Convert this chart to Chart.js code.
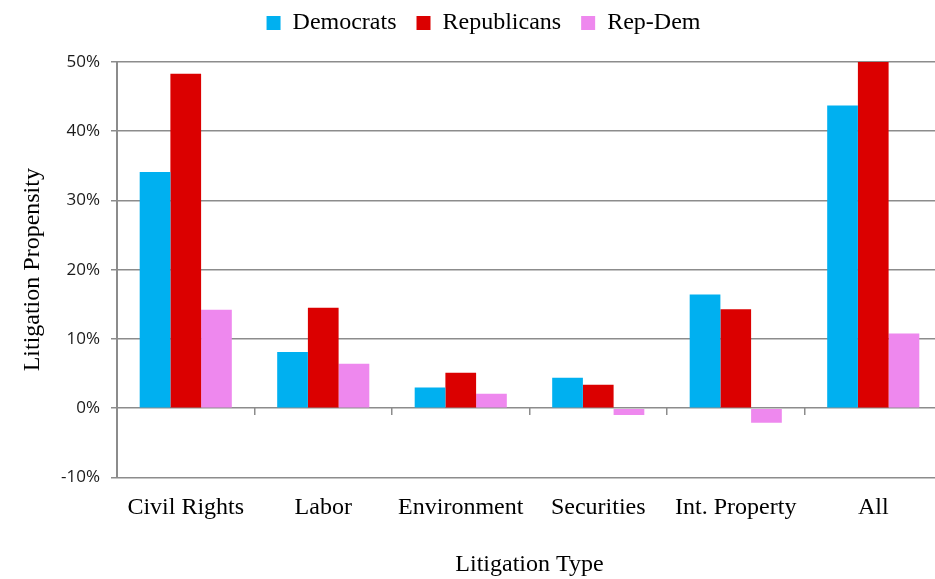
<!DOCTYPE html>
<html lang="en">
<head>
  <meta charset="UTF-8">
  <title>Litigation Propensity by Type</title>
  <script src="https://cdn.jsdelivr.net/npm/chart.js@4.4.0/dist/chart.umd.min.js"></script>
  <style>
    html, body { margin: 0; padding: 0; background: #fff; overflow: hidden; }
    #frame { width: 935px; height: 579px; overflow: hidden; }
    #chart-box { width: 950px; height: 579px; position: relative; }
  </style>
</head>
<body>
  <div id="frame">
    <div id="chart-box">
      <canvas id="litigation-canvas"></canvas>
    </div>
  </div>

  <script>
    // Values (percent)
    const categories = ['Civil Rights', 'Labor', 'Environment', 'Securities', 'Int. Property', 'All'];
    const democrats = [34.1, 8.1, 3.0, 4.4, 16.4, 43.7];
    const republicans = [48.3, 14.5, 5.1, 3.4, 14.3, 54.5]; // "All" runs past the 50% top and is clipped
    const repDem = [14.2, 6.4, 2.1, -1.0, -2.1, 10.8];
    const yTicks = { min: -10, max: 50, step: 10 };

    const serif = 'Liberation Serif';
    const gridGrey = '#8c8c8c';

    // Push the plot down below the legend (extra gap under the legend box)
    const legendGap = {
      id: 'legendGap',
      beforeInit(chart) {
        const originalFit = chart.legend.fit;
        chart.legend.fit = function fit() {
          originalFit.bind(chart.legend)();
          this.height += 17;
        };
      }
    };

    const ctx = document.getElementById('litigation-canvas').getContext('2d');
    new Chart(ctx, {
      type: 'bar',
      data: {
        labels: categories,
        datasets: [
          { label: 'Democrats', data: democrats, backgroundColor: '#00b0f0', borderWidth: 0 },
          { label: 'Republicans', data: republicans, backgroundColor: '#db0000', borderWidth: 0 },
          { label: 'Rep-Dem', data: repDem, backgroundColor: '#ee88ee', borderWidth: 0 }
        ]
      },
      options: {
        responsive: true,
        maintainAspectRatio: false,
        animation: false,
        categoryPercentage: 0.67,
        barPercentage: 1.0,
        layout: { padding: { left: 25, right: 8, top: -9, bottom: 0 } },
        plugins: {
          tooltip: { enabled: false },
          legend: {
            position: 'top',
            labels: {
              boxWidth: 14,
              boxHeight: 14,
              padding: 20,
              color: '#000',
              font: { family: serif, size: 24 }
            }
          }
        },
        scales: {
          x: {
            position: 'bottom',
            grid: { display: false, drawTicks: false },
            border: { display: false },
            ticks: { color: '#000', padding: 16, font: { family: serif, size: 24 } },
            title: {
              display: true,
              text: 'Litigation Type',
              color: '#000',
              font: { family: serif, size: 24 },
              padding: { top: 12, bottom: 0 }
            }
          },
          // small tick marks between categories on the 0% line
          xZero: {
            type: 'category',
            labels: categories,
            position: { y: 0 },
            offset: true,
            grid: { offset: true, drawOnChartArea: false, tickLength: 7, color: gridGrey, lineWidth: 1.5 },
            border: { display: false },
            ticks: { display: false }
          },
          y: {
            min: yTicks.min,
            max: yTicks.max,
            afterFit(scale) { scale.width = 92; },
            ticks: {
              stepSize: yTicks.step,
              padding: 11,
              color: '#1a1a1a',
              font: { family: 'Open Sans', size: 17 },
              callback: v => v + '%'
            },
            grid: { color: gridGrey, lineWidth: 1.5, tickLength: 6 },
            border: { color: gridGrey, width: 2 },
            title: {
              display: true,
              text: 'Litigation Propensity',
              color: '#000',
              font: { family: serif, size: 24 },
              padding: { top: -7, bottom: 0 }
            }
          }
        }
      },
      plugins: [legendGap]
    });
  </script>
</body>
</html>
